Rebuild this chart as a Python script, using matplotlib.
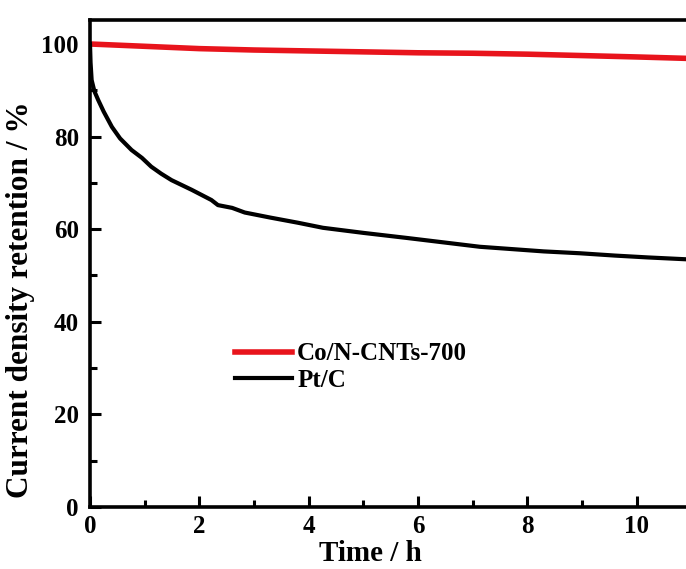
import matplotlib
matplotlib.use("Agg")
import matplotlib.pyplot as plt
from matplotlib.ticker import MultipleLocator

# Values (time in h, retention in %)
co_time = [0.0, 1.0, 2.0, 3.0, 4.0, 5.0, 6.0, 7.0, 8.0, 9.0, 10.0, 10.9]
co_retention = [100.0, 99.5, 99.0, 98.7, 98.5, 98.3, 98.1, 98.0, 97.8, 97.5, 97.2, 96.9]

pt_time = [0.0, 0.01, 0.03, 0.08, 0.15, 0.25, 0.4, 0.55, 0.76, 0.95, 1.12, 1.3, 1.49,
           1.86, 2.22, 2.34, 2.6, 2.83, 3.3, 3.8, 4.26, 5.0, 5.8, 6.5, 7.13, 7.6,
           8.3, 8.96, 9.6, 10.2, 10.9]
pt_retention = [100.0, 96.0, 92.2, 89.8, 87.9, 85.4, 82.1, 79.6, 77.1, 75.4, 73.5, 72.0, 70.6,
                68.5, 66.3, 65.2, 64.6, 63.6, 62.5, 61.4, 60.3, 59.2, 58.1, 57.1, 56.2, 55.8,
                55.2, 54.8, 54.3, 53.9, 53.5]

plt.rcParams["font.family"] = ["Liberation Serif", "DejaVu Serif"]
plt.rcParams["font.weight"] = "bold"

fig = plt.figure(figsize=(6.86, 5.69), dpi=100)
ax = fig.add_axes([0.1312, 0.109, 0.8688, 0.856])

ax.plot(co_time, co_retention, color="#e8141c", lw=4.0, label="Co/N-CNTs-700")
ax.plot(pt_time, pt_retention, color="black", lw=3.0, label="Pt/C")

ax.set_xlim(0, 10.9)
ax.set_ylim(0, 105.2)
ax.xaxis.set_major_locator(MultipleLocator(2))
ax.xaxis.set_minor_locator(MultipleLocator(1))
ax.yaxis.set_major_locator(MultipleLocator(20))
ax.yaxis.set_minor_locator(MultipleLocator(10))

ax.tick_params(which="both", direction="in", top=False, right=False, width=2.2,
               labelsize=18)
ax.tick_params(axis="y", pad=8)
ax.tick_params(axis="x", pad=6)
ax.tick_params(which="major", length=8)
ax.tick_params(which="minor", length=5)
for lab in ax.get_xticklabels() + ax.get_yticklabels():
    lab.set_fontweight("bold")

for side in ["left", "bottom", "top"]:
    ax.spines[side].set_linewidth(2.6)
ax.spines["right"].set_visible(False)

ax.set_xlabel("Time / h", fontsize=21, fontweight="bold")
ax.xaxis.set_label_coords(0.471, -0.068)
ax.set_ylabel("Current density retention / %", fontsize=22.5, fontweight="bold")
ax.yaxis.set_label_coords(-0.093, 0.425)

leg = ax.legend(loc="center left", bbox_to_anchor=(0.205, 0.287), frameon=False,
                prop={"size": 18, "weight": "bold"}, handlelength=2.3,
                handletextpad=0.2, labelspacing=0.15)

fig.savefig("out.png", dpi=100)
